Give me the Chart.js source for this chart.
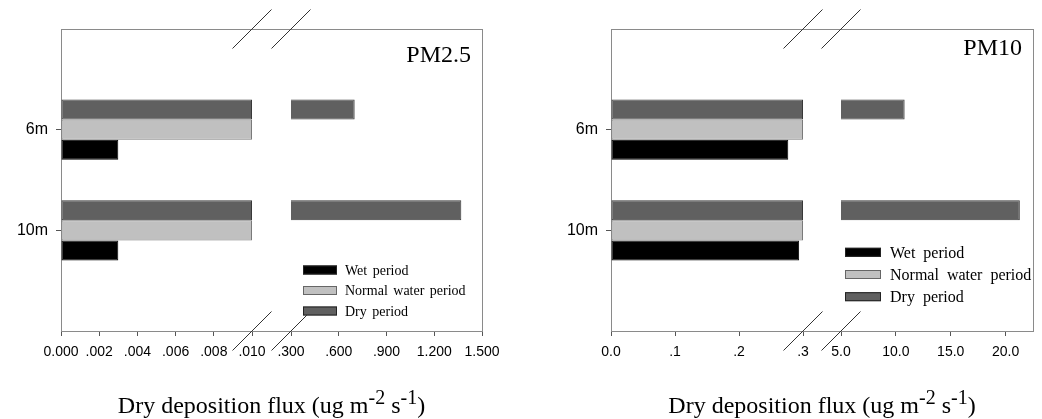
<!DOCTYPE html>
<html><head><meta charset="utf-8">
<script src="https://cdn.jsdelivr.net/npm/chart.js@4.4.1/dist/chart.umd.min.js"></script>
<style>
html,body{margin:0;padding:0;background:#fff;}
#wrap{position:relative;width:1042px;height:419px;overflow:hidden;background:#fff;}
canvas{position:absolute;top:0;}
</style></head><body>
<div id="wrap">
<canvas id="c1" width="521" height="419" style="left:0"></canvas>
<canvas id="c2" width="521" height="419" style="left:521px"></canvas>
</div>
<script>
// ---- data ----
const heights = ['6m', '10m'];
const seriesNames = ['Wet period', 'Normal water period', 'Dry period'];
const seriesColors = ['#000000', '#c0c0c0', '#606060'];
const seriesBorders = ['#000000', '#7a7a7a', '#383838'];

// PM2.5 (ug m-2 s-1)
const pm25Wet = [0.003, 0.003];
const pm25Normal = [0.010, 0.010];
const pm25Dry = [0.70, 1.37];
const pm25LowRange = [0, 0.010];
const pm25HighRange = [0.3, 1.5];
const pm25LowTicks = [0, 0.002, 0.004, 0.006, 0.008, 0.010];
const pm25LowLabels = ['0.000', '.002', '.004', '.006', '.008', '.010'];
const pm25HighTicks = [0.3, 0.6, 0.9, 1.2, 1.5];
const pm25HighLabels = ['.300', '.600', '.900', '1.200', '1.500'];

// PM10 (ug m-2 s-1)
const pm10Wet = [0.277, 0.294];
const pm10Normal = [0.30, 0.30];
const pm10Dry = [10.8, 21.3];
const pm10LowRange = [0, 0.3];
const pm10HighRange = [5, 22.5];
const pm10LowTicks = [0, 0.1, 0.2, 0.3];
const pm10LowLabels = ['0.0', '.1', '.2', '.3'];
const pm10HighTicks = [5, 10, 15, 20];
const pm10HighLabels = ['5.0', '10.0', '15.0', '20.0'];

const axisTitleParts = [['Dry deposition flux (ug m', false], ['-2', true], [' s', false], ['-1', true], [')', false]];

// ---- drawing ----
const SANS = '"Liberation Sans", Arial, sans-serif';
const SERIF = '"Liberation Serif", "Times New Roman", serif';

const decoPlugin = {
  id: 'panelDeco',
  beforeDatasetsDraw(chart, args, o) {
    const {ctx, chartArea: a} = chart;
    ctx.save();
    ctx.strokeStyle = '#8a8a8a';
    ctx.lineWidth = 1;
    ctx.strokeRect(a.left + 0.5, a.top + 0.5, a.right - a.left, a.bottom - a.top);
    ctx.restore();
  },
  afterDraw(chart, args, o) {
    const {ctx, chartArea: a} = chart;
    const xl = chart.scales.xLow, xh = chart.scales.xHigh;
    ctx.save();
    // break marks
    ctx.strokeStyle = '#333';
    ctx.lineWidth = 1;
    [xl.right, xh.left].forEach(x => {
      [a.top, a.bottom].forEach(y => {
        ctx.beginPath();
        ctx.moveTo(x - 19.5, y + 19.5);
        ctx.lineTo(x + 19.5, y - 19.5);
        ctx.stroke();
      });
    });
    // panel title
    ctx.fillStyle = '#000';
    ctx.font = '24px ' + SERIF;
    ctx.textAlign = 'right';
    ctx.textBaseline = 'alphabetic';
    ctx.fillText(o.title, a.right - 11, o.titleY);
    // legend
    const L = o.legend;
    ctx.textAlign = 'left';
    ctx.font = L.font + 'px ' + SERIF;
    if ('wordSpacing' in ctx) ctx.wordSpacing = L.ws + 'px';
    [0, 1, 2].forEach((k, i) => {
      const cy = L.y0 + i * L.dy;
      ctx.fillStyle = seriesColors[k];
      ctx.fillRect(L.x, cy - L.h / 2, L.w, L.h);
      ctx.strokeStyle = k === 1 ? '#666' : '#222';
      ctx.strokeRect(L.x + 0.5, cy - L.h / 2 + 0.5, L.w - 1, L.h - 1);
      ctx.fillStyle = '#000';
      ctx.fillText(seriesNames[k], L.tx, cy + L.font * 0.34);
    });
    if ('wordSpacing' in ctx) ctx.wordSpacing = '0px';
    // axis title with superscripts
    const mainF = '24px ' + SERIF, supF = '20px ' + SERIF;
    let total = 0;
    axisTitleParts.forEach(([t, sup]) => { ctx.font = sup ? supF : mainF; total += ctx.measureText(t).width; });
    let x = (a.left + a.right) / 2 - total / 2;
    const by = 413;
    axisTitleParts.forEach(([t, sup]) => {
      ctx.font = sup ? supF : mainF;
      ctx.fillText(t, x, sup ? by - 9.5 : by);
      x += ctx.measureText(t).width;
    });
    ctx.restore();
  }
};

function buildPanel(id, p) {
  const labels = ['', ...heights, ''];
  const pad = arr => [null, ...arr, null];
  const order = [2, 1, 0];
  const datasets = [];
  const common = k => ({
    label: seriesNames[k], stack: 's' + k,
    backgroundColor: seriesColors[k], borderColor: seriesBorders[k],
    borderWidth: 1, borderSkipped: false
  });
  order.forEach(k => datasets.push(Object.assign(common(k), {
    xAxisID: 'xLow', data: pad(p.values[k].map(v => Math.min(v, p.low[1])))
  })));
  order.forEach(k => datasets.push(Object.assign(common(k), {
    xAxisID: 'xHigh', data: pad(p.values[k].map(v => v > p.high[0] ? v : null))
  })));

  const xTickOpts = {
    autoSkip: false, maxRotation: 0, minRotation: 0, padding: 8,
    color: '#000', font: {family: SANS, size: 14}
  };
  const xGrid = {drawOnChartArea: false, drawTicks: true, tickLength: 5, color: '#555'};
  const fitX = s => { s.height = 88; s.paddingLeft = 0; s.paddingRight = 0; };

  new Chart(document.getElementById(id), {
    type: 'bar',
    data: {labels, datasets},
    plugins: [decoPlugin],
    options: {
      indexAxis: 'y',
      responsive: false,
      animation: false,
      devicePixelRatio: 1,
      categoryPercentage: 0.6,
      barPercentage: 1,
      layout: {padding: {top: 29, left: 0, right: p.padRight, bottom: 0}},
      plugins: {
        legend: {display: false},
        tooltip: {enabled: false},
        panelDeco: {title: p.title, titleY: p.titleY, legend: p.legend}
      },
      scales: {
        y: {
          type: 'category', position: 'left', offset: false,
          grid: {display: true, offset: false, drawOnChartArea: false, tickLength: 5, color: '#555'},
          border: {display: false},
          ticks: {color: '#000', font: {family: SANS, size: 16}, padding: 8},
          afterBuildTicks: s => { s.ticks = s.ticks.filter(t => labels[t.value] !== ''); },
          afterFit: s => { s.width = p.yWidth; s.paddingTop = 0; s.paddingBottom = 0; }
        },
        xLow: {
          type: 'linear', position: 'bottom', stack: 'bx', stackWeight: p.segW,
          min: p.low[0], max: p.low[1], bounds: 'data', stacked: false,
          grid: xGrid, border: {display: false},
          ticks: Object.assign({}, xTickOpts, {callback: v => p.lowLabels[p.lowTicks.indexOf(v)]}),
          afterBuildTicks: s => { s.ticks = p.lowTicks.map(v => ({value: v})); },
          afterFit: fitX
        },
        xGap: {
          type: 'linear', position: 'bottom', stack: 'bx', stackWeight: p.gapW,
          min: 0, max: 1, display: true,
          grid: {display: false}, border: {display: false}, ticks: {display: false},
          afterFit: fitX
        },
        xHigh: {
          type: 'linear', position: 'bottom', stack: 'bx', stackWeight: p.segW,
          min: p.high[0], max: p.high[1], bounds: 'data', stacked: false,
          grid: xGrid, border: {display: false},
          ticks: Object.assign({}, xTickOpts, {callback: v => p.highLabels[p.highTicks.indexOf(v)]}),
          afterBuildTicks: s => { s.ticks = p.highTicks.map(v => ({value: v})); },
          afterFit: fitX
        }
      }
    }
  });
}

buildPanel('c1', {
  values: [pm25Wet, pm25Normal, pm25Dry],
  low: pm25LowRange, high: pm25HighRange,
  lowTicks: pm25LowTicks, lowLabels: pm25LowLabels,
  highTicks: pm25HighTicks, highLabels: pm25HighLabels,
  yWidth: 61, padRight: 39, segW: 191, gapW: 39,
  title: 'PM2.5', titleY: 62,
  legend: {x: 303, w: 34, h: 9, y0: 270, dy: 20.5, tx: 345, font: 14, ws: 2}
});

buildPanel('c2', {
  values: [pm10Wet, pm10Normal, pm10Dry],
  low: pm10LowRange, high: pm10HighRange,
  lowTicks: pm10LowTicks, lowLabels: pm10LowLabels,
  highTicks: pm10HighTicks, highLabels: pm10HighLabels,
  yWidth: 90, padRight: 9, segW: 192, gapW: 38,
  title: 'PM10', titleY: 55,
  legend: {x: 324, w: 36, h: 9, y0: 252.3, dy: 22.2, tx: 369, font: 16, ws: 4}
});
</script>
</body></html>
